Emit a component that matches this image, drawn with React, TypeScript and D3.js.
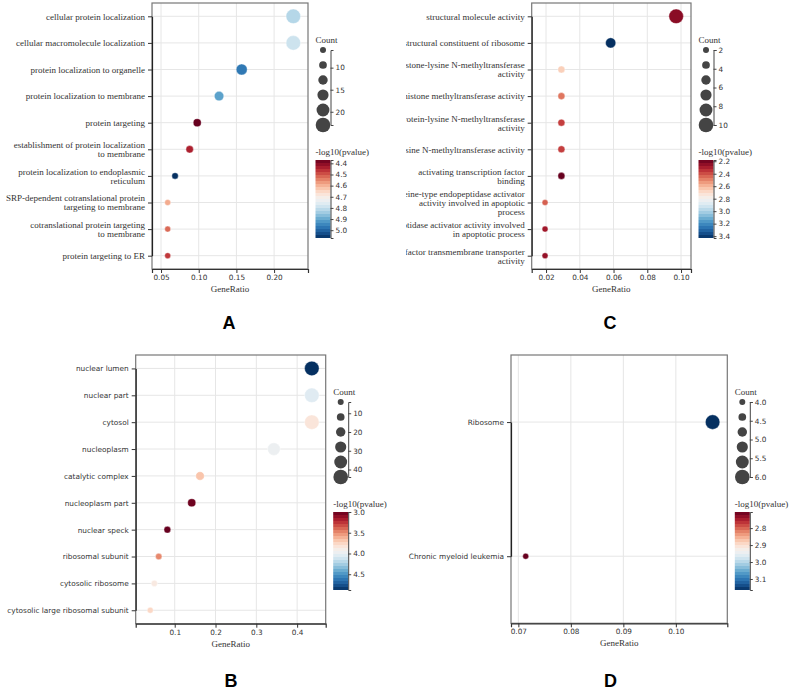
import { useRef, useEffect } from 'react';
import * as d3 from 'd3';

// A – GO biological process
const bpTerms = [
  'cellular protein localization',
  'cellular macromolecule localization',
  'protein localization to organelle',
  'protein localization to membrane',
  'protein targeting',
  'establishment of protein localization\nto membrane',
  'protein localization to endoplasmic\nreticulum',
  'SRP-dependent cotranslational protein\ntargeting to membrane',
  'cotranslational protein targeting\nto membrane',
  'protein targeting to ER'
];
const bpRatio = [0.2255, 0.2255, 0.157, 0.127, 0.098, 0.088, 0.0686, 0.0588, 0.0588, 0.0588];
const bpCount = [23, 23, 16, 13, 10, 9, 7, 6, 6, 6];
const bpLogP = [4.82, 4.79, 4.97, 4.91, 4.37, 4.44, 5.07, 4.59, 4.52, 4.47];

// B – GO cellular component
const ccTerms = [
  'nuclear lumen',
  'nuclear part',
  'cytosol',
  'nucleoplasm',
  'catalytic complex',
  'nucleoplasm part',
  'nuclear speck',
  'ribosomal subunit',
  'cytosolic ribosome',
  'cytosolic large ribosomal subunit'
];
const ccRatio = [0.436, 0.436, 0.436, 0.343, 0.162, 0.1417, 0.082, 0.0608, 0.05, 0.04];
const ccCount = [44, 44, 44, 35, 16, 14, 8, 6, 5, 4];
const ccLogP = [4.88, 4.05, 3.83, 3.98, 3.68, 3.02, 3.0, 3.49, 3.86, 3.76];

// C – GO molecular function
const mfTerms = [
  'structural molecule activity',
  'structural constituent of ribosome',
  'histone-lysine N-methyltransferase\nactivity',
  'histone methyltransferase activity',
  'protein-lysine N-methyltransferase\nactivity',
  'lysine N-methyltransferase activity',
  'activating transcription factor\nbinding',
  'cysteine-type endopeptidase activator\nactivity involved in apoptotic\nprocess',
  'peptidase activator activity involved\nin apoptotic process',
  'cofactor transmembrane transporter\nactivity'
];
const mfRatio = [0.0971, 0.0583, 0.0291, 0.0291, 0.0291, 0.0291, 0.0291, 0.0194, 0.0194, 0.0194];
const mfCount = [10, 6, 3, 3, 3, 3, 3, 2, 2, 2];
const mfLogP = [2.24, 3.43, 2.66, 2.47, 2.37, 2.37, 2.18, 2.43, 2.28, 2.26];

// D – KEGG
const keggTerms = ['Ribosome', 'Chronic myeloid leukemia'];
const keggRatio = [0.107, 0.0714];
const keggCount = [6, 4];
const keggLogP = [3.165, 2.705];

const SERIF = '"Liberation Serif", "Times New Roman", serif';
const SANS = '"DejaVu Sans", Verdana, sans-serif';

type Panel = {
  letter: string;
  terms: string[];
  ratio: number[];
  count: number[];
  logP: number[];
  box: [number, number, number, number]; // x0, x1, y0, y1
  xDomain: [number, number];
  labelFont: 'serif' | 'sans';
  clipX: number;
  letterPos: [number, number];
};

const PANELS: Panel[] = [
  { letter: 'A', terms: bpTerms, ratio: bpRatio, count: bpCount, logP: bpLogP,
    box: [152, 308, 3, 269], xDomain: [0.038, 0.245], labelFont: 'serif', clipX: 0, letterPos: [229, 329] },
  { letter: 'C', terms: mfTerms, ratio: mfRatio, count: mfCount, logP: mfLogP,
    box: [531.7, 691, 3, 269], xDomain: [0.0115, 0.1059], labelFont: 'serif', clipX: 406, letterPos: [610, 329] },
  { letter: 'B', terms: ccTerms, ratio: ccRatio, count: ccCount, logP: ccLogP,
    box: [135.7, 325.7, 355, 623.7], xDomain: [0.0044, 0.47], labelFont: 'sans', clipX: 0, letterPos: [231, 687] },
  { letter: 'D', terms: keggTerms, ratio: keggRatio, count: keggCount, logP: keggLogP,
    box: [511, 727.3, 355, 623.3], xDomain: [0.0686, 0.1098], labelFont: 'sans', clipX: 398, letterPos: [610.5, 687] }
];

function drawPanel(svg: d3.Selection<SVGSVGElement, unknown, null, undefined>, p: Panel) {
  const [x0, x1, y0, y1] = p.box;
  const n = p.terms.length;
  const step = (y1 - y0) / n;

  const g = svg.append('g');
  if (p.clipX) {
    const id = `clip-${p.letter}`;
    svg.select('defs').append('clipPath').attr('id', id)
      .append('rect').attr('x', p.clipX).attr('y', 0).attr('width', 789 - p.clipX).attr('height', 690);
    g.attr('clip-path', `url(#${id})`);
  }

  const x = d3.scaleLinear().domain(p.xDomain).range([x0, x1]);
  const y = d3.scalePoint<number>().domain(d3.range(n)).range([y0 + step / 2, y1 - step / 2]);
  const cExt = d3.extent(p.count) as [number, number];
  const r = d3.scaleLinear().domain(cExt).range([3, 7.3]);
  const pExt = d3.extent(p.logP) as [number, number];
  const color = d3.scaleSequential(d3.interpolateRdBu).domain(pExt);

  // grid
  g.append('g').selectAll('line').data(x.ticks(5)).join('line')
    .attr('x1', (d) => x(d)).attr('x2', (d) => x(d)).attr('y1', y0).attr('y2', y1)
    .attr('stroke', '#e6e6e6').attr('stroke-width', 1);
  g.append('g').selectAll('line').data(d3.range(n)).join('line')
    .attr('x1', x0).attr('x2', x1).attr('y1', (d) => y(d)!).attr('y2', (d) => y(d)!)
    .attr('stroke', '#e6e6e6').attr('stroke-width', 1);

  // frame
  g.append('rect').attr('x', x0).attr('y', y0).attr('width', x1 - x0).attr('height', y1 - y0)
    .attr('fill', 'none').attr('stroke', '#777').attr('stroke-width', 1.2);

  // points
  g.append('g').selectAll('circle').data(d3.range(n)).join('circle')
    .attr('cx', (i) => x(p.ratio[i])).attr('cy', (i) => y(i)!)
    .attr('r', (i) => r(p.count[i]))
    .attr('fill', (i) => color(p.logP[i]))
    .attr('stroke', '#fff').attr('stroke-width', 0.4);

  // x axis
  const xa = g.append('g').attr('transform', `translate(0,${y1})`)
    .call(d3.axisBottom(x).ticks(5).tickSize(4).tickSizeOuter(4).tickPadding(2));
  xa.select('.domain').attr('stroke', '#333').attr('stroke-width', 1.2);
  xa.selectAll('.tick line').attr('stroke', '#333');
  xa.selectAll('text').attr('font-family', SANS).attr('font-size', 7.3).attr('fill', '#333');

  // y axis
  const ya = g.append('g').attr('transform', `translate(${x0},0)`)
    .call(d3.axisLeft(y).tickSize(4).tickSizeOuter(0).tickPadding(3));
  ya.select('.domain').attr('stroke', '#222').attr('stroke-width', 1.2);
  ya.selectAll('.tick line').attr('stroke', '#333');
  const isSerif = p.labelFont === 'serif';
  ya.selectAll<SVGTextElement, number>('text')
    .attr('font-family', isSerif ? SERIF : SANS)
    .attr('font-size', isSerif ? 9 : 7.35)
    .attr('fill', '#333')
    .attr('dy', null)
    .each(function (i) {
      const t = d3.select(this);
      const lines = p.terms[i].split('\n');
      t.text(null);
      lines.forEach((line, k) => {
        t.append('tspan').attr('x', -7)
          .attr('dy', k === 0 ? `${0.32 - (lines.length - 1) * 0.5}em` : '1em')
          .text(line);
      });
    });

  // x title
  g.append('text').attr('x', (x0 + x1) / 2).attr('y', y1 + 23).attr('text-anchor', 'middle')
    .attr('font-family', SERIF).attr('font-size', 9).attr('fill', '#333').text('GeneRatio');

  // size legend
  const lx = x1 + 7.5;
  const axX = x1 + 22.5;
  g.append('text').attr('x', lx).attr('y', y0 + 40).attr('font-family', SERIF)
    .attr('font-size', 9).attr('fill', '#333').text('Count');
  const ly = d3.scaleLinear().domain(cExt).range([y0 + 47, y0 + 122]);
  const sizeVals = d3.range(6).map((k) => cExt[0] + (k * (cExt[1] - cExt[0])) / 5);
  g.append('g').selectAll('circle').data(sizeVals).join('circle')
    .attr('cx', x1 + 15).attr('cy', (v) => ly(v)).attr('r', (v) => r(v)).attr('fill', '#444');
  const la = g.append('g').attr('transform', `translate(${axX},0)`)
    .call(d3.axisRight(ly).ticks(5).tickSize(3).tickSizeOuter(3).tickPadding(2));
  la.select('.domain').attr('stroke', '#444');
  la.selectAll('.tick line').attr('stroke', '#444');
  la.selectAll('text').attr('font-family', SANS).attr('font-size', 7.3).attr('fill', '#333');

  // colour legend
  g.append('text').attr('x', lx).attr('y', y0 + 151.5).attr('font-family', SERIF)
    .attr('font-size', 9).attr('fill', '#333').text('-log10(pvalue)');
  const cy = d3.scaleLinear().domain(pExt).range([y0 + 157, y0 + 235]);
  const bands = 26;
  const bh = (y0 + 235 - (y0 + 157)) / bands;
  g.append('g').selectAll('rect').data(d3.range(bands)).join('rect')
    .attr('x', lx).attr('width', axX - lx)
    .attr('y', (k) => y0 + 157 + k * bh).attr('height', bh)
    .attr('fill', (k) => color(cy.invert(y0 + 157 + (k + 0.5) * bh)));
  const ca = g.append('g').attr('transform', `translate(${axX},0)`)
    .call(d3.axisRight(cy).ticks(5).tickSize(3).tickSizeOuter(3).tickPadding(2));
  ca.select('.domain').attr('stroke', '#444');
  ca.selectAll('.tick line').attr('stroke', '#444');
  ca.selectAll('text').attr('font-family', SANS).attr('font-size', 7.3).attr('fill', '#333');

  // panel letter
  svg.append('text').attr('x', p.letterPos[0]).attr('y', p.letterPos[1])
    .attr('text-anchor', 'middle').attr('font-family', '"Liberation Sans", Arial, sans-serif')
    .attr('font-weight', 'bold').attr('font-size', 18).attr('fill', '#000').text(p.letter);
}

export default function App() {
  const ref = useRef<SVGSVGElement>(null);

  useEffect(() => {
    if (!ref.current) return;
    const svg = d3.select(ref.current);
    svg.selectAll('*').remove();
    svg.append('defs');
    PANELS.forEach((p) => drawPanel(svg, p));
  }, []);

  return (
    <svg
      ref={ref}
      width={789}
      height={690}
      style={{ position: 'absolute', left: 0, top: 0, background: '#fff' }}
    />
  );
}
